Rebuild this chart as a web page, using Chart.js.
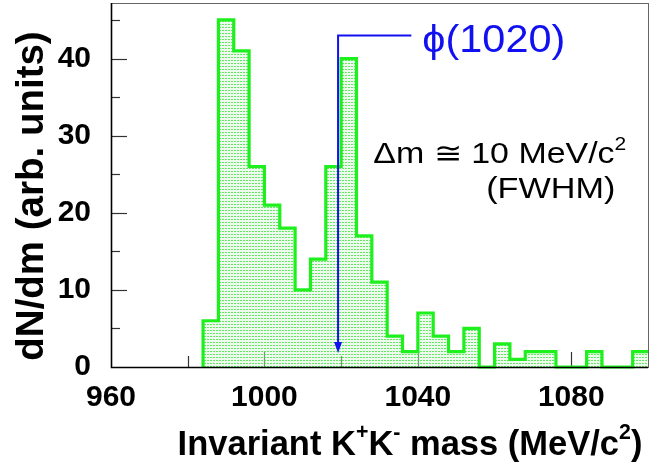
<!DOCTYPE html>
<html>
<head>
<meta charset="utf-8">
<script src="https://cdn.jsdelivr.net/npm/chart.js@4.4.1/dist/chart.umd.min.js"></script>
<style>
    html, body { margin: 0; padding: 0; background: #fff; }
    .chart { width: 666px; height: 467px; }
</style>
</head>
<body>
<div class="chart">
    <canvas id="myChart" width="666" height="467"></canvas>
</div>
<script>
    // histogram: 4 MeV bins starting at 984 MeV
    const binStart = 984;
    const binWidth = 4;
    const counts = [6, 45, 41, 26, 21, 18, 10, 14, 26, 40, 17, 11, 4, 2, 7, 4, 2, 5, 0, 3, 1, 2, 2, 0, 0, 2, 0, 0, 2];

    const xTicks = [960, 980, 1000, 1020, 1040, 1060, 1080, 1100];
    const xLabels = [960, 1000, 1040, 1080];
    const yTicks = [0, 5, 10, 15, 20, 25, 30, 35, 40, 45];
    const yLabels = [0, 10, 20, 30, 40];

    const FONT = '"Liberation Sans", Arial, sans-serif';
    const GREEN = '#1ef01e';
    const BLUE = '#1010f0';

    // step points: rise from zero at the first edge, each bin's value at its left edge,
    // and the last value repeated at the closing edge
    const points = [{ x: binStart, y: 0 }]
        .concat(counts.map((c, i) => ({ x: binStart + i * binWidth, y: c })))
        .concat([{ x: binStart + counts.length * binWidth, y: counts[counts.length - 1] }]);

    function dotPattern() {
        const tile = document.createElement('canvas');
        tile.width = 3;
        tile.height = 3;
        const t = tile.getContext('2d');
        t.fillStyle = 'rgba(215, 245, 215, 0.45)';
        t.fillRect(0, 0, 3, 3);
        t.fillStyle = 'rgba(60, 230, 60, 0.8)';
        t.fillRect(0, 0, 2, 1);
        return document.getElementById('myChart').getContext('2d').createPattern(tile, 'repeat');
    }

    // text with superscripts, parts = [[text, isSup], ...]
    function richText(ctx, parts, x, y, size, weight, align, stretch) {
        const font = s => `${weight} ${s}px ${FONT}`;
        let total = 0;
        parts.forEach(([t, sup]) => {
            ctx.font = font(sup ? size * 0.62 : size);
            total += ctx.measureText(t).width;
        });
        ctx.save();
        ctx.translate(x, y);
        ctx.scale(stretch, 1);
        let cx = align === 'center' ? -total / 2 : align === 'right' ? -total : 0;
        ctx.textBaseline = 'alphabetic';
        ctx.textAlign = 'left';
        parts.forEach(([t, sup]) => {
            ctx.font = font(sup ? size * 0.62 : size);
            ctx.fillText(t, cx, sup ? -size * 0.45 : 0);
            cx += ctx.measureText(t).width;
        });
        ctx.restore();
    }

    const framePlugin = {
        id: 'frame',
        beforeDatasetsDraw(chart) {
            const { ctx, chartArea: a, scales: { x, y } } = chart;
            ctx.save();
            ctx.strokeStyle = '#333';
            ctx.lineWidth = 1.2;
            xTicks.forEach(v => {
                if (v === 960 || v === 1100) return;
                const px = Math.round(x.getPixelForValue(v)) + 0.5;
                const len = xLabels.includes(v) ? 15 : 11;
                ctx.beginPath();
                ctx.moveTo(px, a.bottom);
                ctx.lineTo(px, a.bottom - len);
                ctx.stroke();
            });
            yTicks.forEach(v => {
                if (v === 0) return;
                const py = Math.round(y.getPixelForValue(v)) + 0.5;
                const len = yLabels.includes(v) ? 16 : 9;
                ctx.beginPath();
                ctx.moveTo(a.left, py);
                ctx.lineTo(a.left + len, py);
                ctx.stroke();
            });
            ctx.restore();
        },
        afterDatasetsDraw(chart) {
            const { ctx, chartArea: a, scales: { x, y } } = chart;
            ctx.save();
            // frame
            ctx.strokeStyle = '#666';
            ctx.lineWidth = 1;
            ctx.strokeRect(a.left + 0.5, a.top + 0.5, a.right - a.left, a.bottom - a.top);
            ctx.strokeStyle = '#000';
            ctx.lineWidth = 1.6;
            ctx.beginPath();
            ctx.moveTo(a.left + 0.5, a.top);
            ctx.lineTo(a.left + 0.5, a.bottom + 0.5);
            ctx.lineTo(a.right, a.bottom + 0.5);
            ctx.stroke();

            // phi(1020) arrow
            const ax = x.getPixelForValue(1019.2);
            const aTop = y.getPixelForValue(43);
            const aTip = y.getPixelForValue(1.8);
            const aEnd = x.getPixelForValue(1038.3);
            ctx.strokeStyle = BLUE;
            ctx.fillStyle = BLUE;
            ctx.lineWidth = 2;
            ctx.beginPath();
            ctx.moveTo(aEnd, aTop);
            ctx.lineTo(ax, aTop);
            ctx.lineTo(ax, aTip - 9);
            ctx.stroke();
            ctx.beginPath();
            ctx.moveTo(ax - 4, aTip - 11);
            ctx.lineTo(ax + 4, aTip - 11);
            ctx.lineTo(ax, aTip);
            ctx.closePath();
            ctx.fill();
            richText(ctx, [['\u03d5(1020)', false]], aEnd + 11, aTop + 17, 38, 'normal', 'left', 1.09);

            ctx.fillStyle = '#000';
            richText(ctx, [['\u0394m \u2245 10 MeV/c', false], ['2', true]],
                x.getPixelForValue(1028.4), y.getPixelForValue(26.4), 29, 'normal', 'left', 1.17);
            richText(ctx, [['(FWHM)', false]],
                x.getPixelForValue(1057.8), y.getPixelForValue(21.9), 29, 'normal', 'left', 1.18);

            // axis titles
            richText(ctx, [['Invariant K', false], ['+', true], ['K', false], ['-', true], [' mass (MeV/c', false], ['2', true], [')', false]],
                410, 455, 34.5, 'bold', 'center', 1.0);
            ctx.save();
            ctx.translate(43, 196);
            ctx.rotate(-Math.PI / 2);
            richText(ctx, [['dN/dm (arb. units)', false]], 0, 0, 38.5, 'bold', 'center', 1.0);
            ctx.restore();
            ctx.restore();
        }
    };

    const ctx = document.getElementById('myChart').getContext('2d');
    const myChart = new Chart(ctx, {
        type: 'line',
        data: {
            datasets: [{
                data: points,
                stepped: 'before',
                borderColor: GREEN,
                borderWidth: 3.2,
                backgroundColor: dotPattern(),
                fill: 'origin',
                pointRadius: 0,
                tension: 0,
                clip: 4
            }]
        },
        options: {
            responsive: false,
            animation: false,
            devicePixelRatio: 1,
            layout: { padding: { top: 3, right: 18, left: 0, bottom: 0 } },
            plugins: { legend: { display: false }, tooltip: { enabled: false } },
            scales: {
                x: {
                    type: 'linear',
                    min: 960,
                    max: 1100,
                    afterBuildTicks: s => { s.ticks = xTicks.map(v => ({ value: v })); },
                    afterFit: s => { s.height = 100; s.paddingLeft = 0; s.paddingRight = 0; },
                    grid: { display: false },
                    border: { display: false },
                    ticks: {
                        autoSkip: false,
                        maxRotation: 0,
                        padding: 5,
                        color: '#000',
                        font: { family: FONT, size: 30, weight: 'bold' },
                        callback: v => xLabels.includes(v) ? String(v) : ''
                    }
                },
                y: {
                    min: 0,
                    max: 47.2,
                    afterBuildTicks: s => { s.ticks = yTicks.map(v => ({ value: v })); },
                    afterFit: s => { s.width = 111; s.paddingTop = 0; s.paddingBottom = 0; },
                    grid: { display: false },
                    border: { display: false },
                    ticks: {
                        padding: 12,
                        color: '#000',
                        font: { family: FONT, size: 30, weight: 'bold' },
                        callback: v => yLabels.includes(v) ? String(v) : ''
                    }
                }
            }
        },
        plugins: [framePlugin]
    });
</script>
</body>
</html>
